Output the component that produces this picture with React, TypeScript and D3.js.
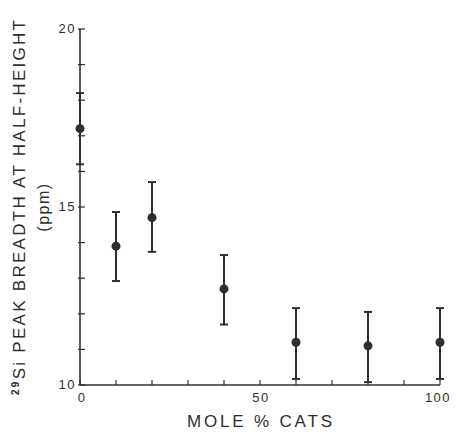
import React from "react";
import * as d3 from "d3";

const molePct = [0, 10, 20, 40, 60, 80, 100];
const breadth = [17.2, 13.9, 14.7, 12.7, 11.2, 11.1, 11.2];
const errLow = [16.2, 12.92, 13.74, 11.7, 10.17, 10.08, 10.17];
const errHigh = [18.2, 14.86, 15.7, 13.65, 12.16, 12.05, 12.16];
const xTickLabels = [0, 50, 100];
const yTickLabels = [10, 15, 20];

const W = 456, H = 432;
const ink = "#2e2e2e";

export default function App() {
  const x = d3.scaleLinear().domain([0, 100]).range([80, 440]);
  const y = d3.scaleLinear().domain([10, 20]).range([385, 29]);
  const xMinor = d3.range(0, 101, 10);
  const yMinor = d3.range(10, 20.01, 1);
  const font = "Liberation Sans, Arial, sans-serif";
  return (
    <svg width={W} height={H} style={{ position: "absolute", left: 0, top: 0, background: "#fff" }}>
      {/* axes */}
      <line x1={x(0)} x2={x(100)} y1={y(10)} y2={y(10)} stroke={ink} strokeWidth={1.6} />
      <line x1={x(0)} x2={x(0)} y1={y(10)} y2={y(20)} stroke={ink} strokeWidth={1.6} />
      {xMinor.map((v) => (
        <line key={"xt" + v} x1={x(v)} x2={x(v)} y1={y(10)} y2={y(10) - 5} stroke={ink} strokeWidth={1.2} />
      ))}
      {yMinor.map((v) => (
        <line key={"yt" + v} x1={x(0) - 2} x2={x(0) + 5} y1={y(v)} y2={y(v)} stroke={ink} strokeWidth={1.2} />
      ))}
      {xTickLabels.map((v) => (
        <text key={"xl" + v} x={x(v) + (v === 100 ? -2 : v === 0 ? 2 : 1)} y={y(10) + 17} fontFamily={font} fontSize={13} fill={ink}
          textAnchor="middle" letterSpacing={1.5}>{v}</text>
      ))}
      {yTickLabels.map((v) => (
        <text key={"yl" + v} x={x(0) - 4} y={y(v) + 4} fontFamily={font} fontSize={13} fill={ink}
          textAnchor="end" letterSpacing={1.5}>{v}</text>
      ))}
      {/* error bars and points */}
      {molePct.map((m, i) => (
        <g key={"p" + i} stroke={ink} fill={ink}>
          <line x1={x(m)} x2={x(m)} y1={y(errLow[i])} y2={y(errHigh[i])} strokeWidth={2} />
          <line x1={x(m) - 4} x2={x(m) + 4} y1={y(errLow[i])} y2={y(errLow[i])} strokeWidth={2} />
          <line x1={x(m) - 4} x2={x(m) + 4} y1={y(errHigh[i])} y2={y(errHigh[i])} strokeWidth={2} />
          <circle cx={x(m)} cy={y(breadth[i])} r={4.5} stroke="none" />
        </g>
      ))}
      {/* axis titles */}
      <text x={187} y={427} fontFamily={font} fontSize={17} fill={ink} textLength={145} lengthAdjust="spacing">MOLE % CATS</text>
      <text transform="translate(25,395) rotate(-90)" fontFamily={font} fontSize={17} fill={ink} textLength={375} lengthAdjust="spacing">
        <tspan fontSize={10} dy={-6} fontWeight="bold">29</tspan>
        <tspan dy={6}>Si PEAK BREADTH AT HALF-HEIGHT</tspan>
      </text>
      <text transform="translate(49,207) rotate(-90)" fontFamily={font} fontSize={16} fill={ink} textAnchor="middle" letterSpacing={1.5}>(ppm)</text>
    </svg>
  );
}
